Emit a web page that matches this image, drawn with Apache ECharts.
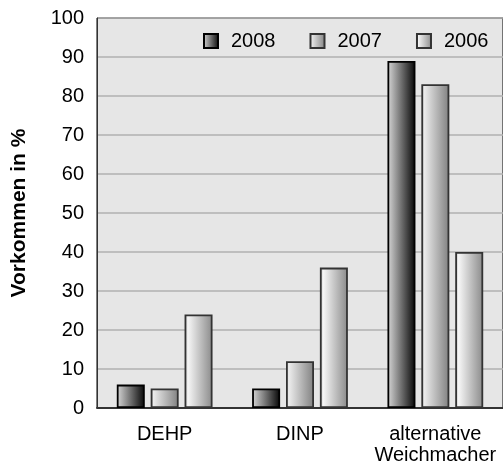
<!DOCTYPE html>
<html><head><meta charset="utf-8">
<script src="https://cdn.jsdelivr.net/npm/echarts@6/dist/echarts.min.js"></script>
<style>html,body{margin:0;padding:0;background:#fff}#c{width:503px;height:466px}</style>
</head><body><div id="c"></div>
<script>
const categories = ['DEHP', 'DINP', 'alternative\nWeichmacher'];
const years = ['2008', '2007', '2006'];
const v2008 = [6, 5, 89];
const v2007 = [5, 12, 83];
const v2006 = [24, 36, 40];
const yTicks = [0, 100, 10];

function grad(stops){return new echarts.graphic.LinearGradient(0,0,1,0,stops.map((c,i)=>({offset:c[0],color:c[1]})));}
const fills = [
  grad([[0,'#d8d8d8'],[1,'#050505']]),
  grad([[0,'#c4c4c4'],[0.1,'#ececec'],[1,'#808080']]),
  grad([[0,'#b8b8b8'],[0.12,'#f6f6f6'],[1,'#8a8a8a']])
];
const borders = ['#000000','#333333','#333333'];
const data = [v2008, v2007, v2006];
const FF = 'Liberation Sans, Arial, sans-serif';

const chart = echarts.init(document.getElementById('c'));
chart.setOption({
  animation:false,
  textStyle:{fontFamily:FF},
  grid:{left:97,top:18,right:-4,bottom:56,show:true,backgroundColor:'#e6e6e6',borderColor:'#000',borderWidth:1},
  legend:{left:203,top:31,padding:0,itemWidth:14,itemHeight:14,itemGap:34,icon:'rect',
    textStyle:{fontSize:20,color:'#000',fontFamily:FF,padding:[0,0,0,8]},
    data:years},
  xAxis:{type:'category',data:categories,
    axisLine:{lineStyle:{color:'#333',width:2}},axisTick:{show:false},
    axisLabel:{interval:0,fontSize:20,color:'#000',margin:16,lineHeight:21}},
  yAxis:{type:'value',min:yTicks[0],max:yTicks[1],interval:yTicks[2],
    name:'Vorkommen in %',nameLocation:'middle',nameGap:67,
    nameTextStyle:{fontSize:21,fontWeight:'bold',color:'#000'},
    axisLine:{show:true,lineStyle:{color:'#333',width:1}},axisTick:{show:false},
    axisLabel:{fontSize:20,color:'#000',margin:13},
    splitLine:{lineStyle:{color:'#b0b0b0',width:1.5}}},
  series:years.map((y,i)=>({name:y,type:'bar',data:data[i],barWidth:28,barGap:'21%',
    itemStyle:{color:fills[i],borderColor:borders[i],borderWidth:1.8}}))
});
</script></body></html>
